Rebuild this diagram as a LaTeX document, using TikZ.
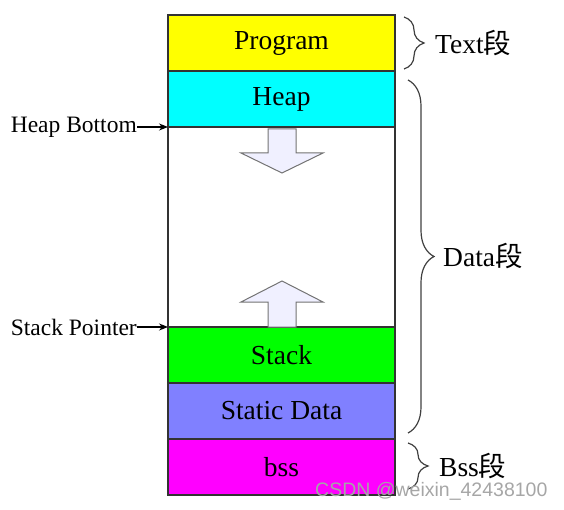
\documentclass[tikz,border=0pt]{standalone}
\usepackage{fontspec}
\setmainfont{Liberation Serif}
\newfontfamily\cjk{Noto Sans CJK SC}
\newfontfamily\wmfont{Liberation Sans}
\usetikzlibrary{positioning,calc,decorations.pathreplacing,arrows.meta}
\definecolor{progyellow}{RGB}{255,255,0}
\definecolor{heapcyan}{RGB}{0,255,255}
\definecolor{stackgreen}{RGB}{0,255,0}
\definecolor{staticblue}{RGB}{128,128,255}
\definecolor{bssmagenta}{RGB}{255,0,255}
\tikzset{
  x=1pt, y=1pt,
  seg/.style = {draw=black!80, line width=1.2pt, minimum width=227pt, minimum height=56pt,
                inner sep=0pt, outer sep=0pt, font=\fontsize{27.5}{30}\selectfont},
  sidelbl/.style = {inner sep=0pt, font=\fontsize{23.5}{26}\selectfont},
  ptr/.style = {-{Stealth[length=9pt,width=7pt]}, line width=1.1pt},
  brc/.style = {decorate, decoration={brace,amplitude=#1}, draw=black!75, line width=1.2pt},
  brclbl/.style = {anchor=west, inner sep=0pt, font=\fontsize{27.5}{30}\selectfont},
  blockarr/.style = {draw=black!55, line width=1pt, fill=blue!6!white, line join=miter}
}
\begin{document}
\begin{tikzpicture}
\useasboundingbox (0,0) rectangle (564,509);
% memory column
\node [seg, fill=progyellow] (prog) at (281.5,466) {Program};
\node [seg, fill=heapcyan, below=0pt of prog] (heap) {Heap};
\node [seg, minimum height=200pt, below=0pt of heap] (gap) {};
\node [seg, fill=stackgreen, below=0pt of gap] (stack) {Stack};
\node [seg, fill=staticblue, below=0pt of stack] (static) {Static Data};
\node [seg, fill=bssmagenta, below=0pt of static] (bss) {bss};

% growth arrows
\draw [blockarr] (268,380) -- (296,380) -- (296,356) -- (323,356) -- (282,336)
  -- (241,356) -- (268,356) -- cycle;
\draw [blockarr] (268,182) -- (296,182) -- (296,207) -- (323,207) -- (282,228)
  -- (241,207) -- (268,207) -- cycle;

% pointers
\node [sidelbl, anchor=east] (hb) at (137,382) {Heap Bottom};
\node [sidelbl, anchor=east] (sp) at (137,182) {Stack Pointer};
\draw [ptr] (hb.east) -- (heap.south west);
\draw [ptr] (sp.east) -- (stack.north west);

% segments
\draw [brc=20pt] ($(prog.north east)+(9,-2)$) -- ($(prog.south east)+(9,2)$)
  coordinate[midway] (tmid);
\draw [brc=26pt] ($(heap.north east)+(13,-9)$) -- ($(static.south east)+(13,6)$)
  coordinate[midway] (dmid);
\draw [brc=20pt] ($(bss.north east)+(13,-4)$) -- ($(bss.south east)+(13,6)$)
  coordinate[midway] (bmid);
\node [brclbl] (tl) at ($(tmid)+(31,0)$) {Text{\cjk 段}};
\node [brclbl] (dl) at ($(dmid)+(35,0)$) {Data{\cjk 段}};
\node [brclbl] (bl) at ($(bmid)+(31,0)$) {Bss{\cjk 段}};

\node [font=\wmfont\fontsize{19.5}{22}\selectfont, text=black!35, anchor=west, inner sep=0pt]
  (wm) at (315,18) {CSDN @weixin\_42438100};
\end{tikzpicture}
\end{document}
